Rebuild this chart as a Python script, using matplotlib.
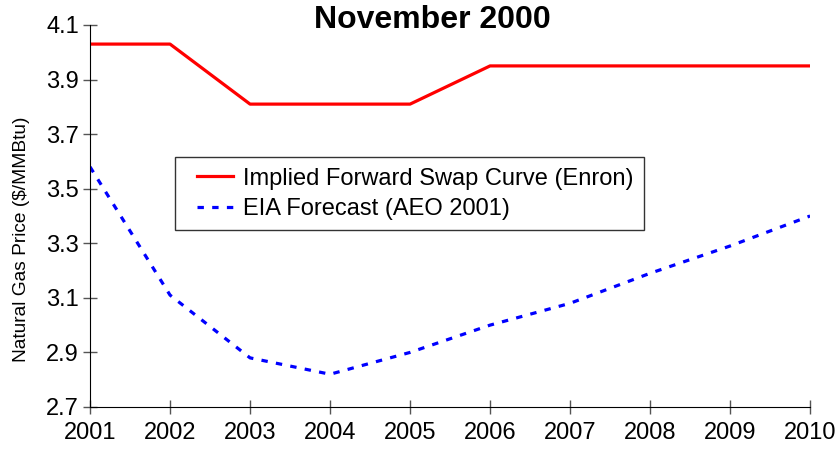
import matplotlib.pyplot as plt
from matplotlib.legend_handler import HandlerLine2D

plt.rcParams['font.family'] = ['Liberation Sans', 'DejaVu Sans']

years = [2001, 2002, 2003, 2004, 2005, 2006, 2007, 2008, 2009, 2010]
enron = [4.03, 4.03, 3.81, 3.81, 3.81, 3.95, 3.95, 3.95, 3.95, 3.95]
eia = [3.58, 3.11, 2.88, 2.82, 2.90, 3.00, 3.08, 3.19, 3.29, 3.40]
yticks = [2.7, 2.9, 3.1, 3.3, 3.5, 3.7, 3.9, 4.1]

fig = plt.figure(figsize=(8.36, 4.51), dpi=100)
ax = fig.add_axes([0.1077, 0.0976, 0.8613, 0.847])

ax.plot(years, enron, color='#ff0000', lw=2.3, label='Implied Forward Swap Curve (Enron)')
ax.plot(years, eia, color='#0000ff', lw=2.3, dashes=(2.0, 2.6),
        label='EIA Forecast (AEO 2001)')

ax.set_xlim(2001, 2010)
ax.set_ylim(2.7, 4.1)
ax.set_xticks(years)
ax.set_yticks(yticks)
ax.set_yticklabels(['%.1f' % v for v in yticks])
ax.tick_params(direction='inout', length=10, width=1, labelsize=17, color='#555555')
ax.tick_params(axis='x', pad=6)
ax.tick_params(axis='y', pad=3)
ax.spines['top'].set_visible(False)
ax.spines['right'].set_visible(False)
ax.set_ylabel('Natural Gas Price ($/MMBtu)', fontsize=13.8)
ax.yaxis.set_label_coords(-0.083, 0.44)

fig.text(0.5167, 0.956, 'November 2000', fontsize=23, fontweight='bold',
         ha='center', va='center')

leg = ax.legend(loc='upper left', bbox_to_anchor=(0.209, 0.652), bbox_transform=fig.transFigure,
                fontsize=17, frameon=True, fancybox=False, handlelength=2.03,
                handletextpad=0.42, borderpad=0.45, labelspacing=0.35, borderaxespad=0,
                handler_map={plt.Line2D: HandlerLine2D(xpad=0.5)})
leg.get_frame().set_edgecolor('black')
leg.get_frame().set_linewidth(1)

fig.savefig('out.png', dpi=100)
